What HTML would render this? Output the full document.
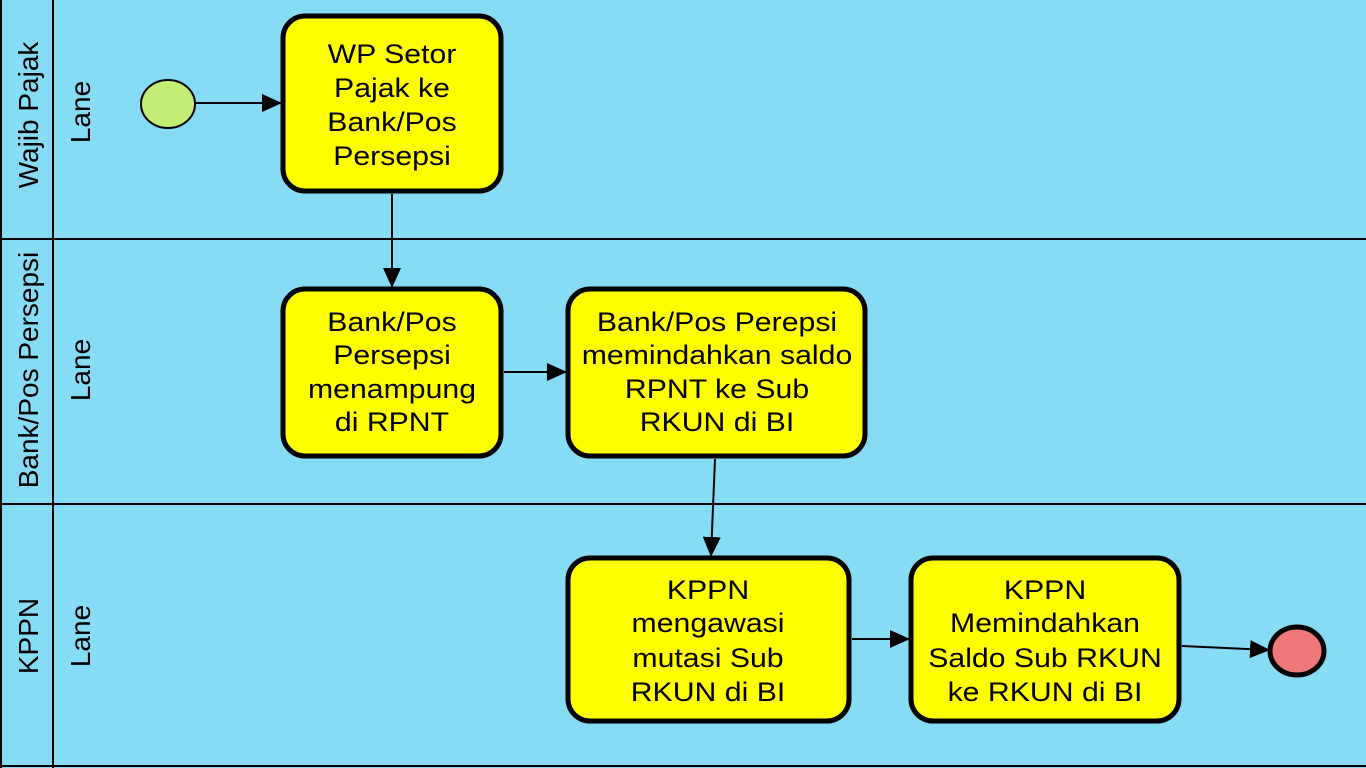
<!DOCTYPE html>
<html><head><style>html,body{margin:0;padding:0;width:1366px;height:768px;overflow:hidden;background:#87dcf5}</style></head>
<body>
<svg width="1366" height="768" viewBox="0 0 1366 768" xmlns="http://www.w3.org/2000/svg" font-family="Liberation Sans, Arial, sans-serif">
<defs><marker id="a" markerWidth="20" markerHeight="18" refX="19" refY="9" orient="auto" markerUnits="userSpaceOnUse"><path d="M0,0 L20,9 L0,18 z" fill="#000"/></marker></defs>
<rect x="0" y="0" width="1366" height="768" fill="#87dcf5"/>
<g stroke="#000" stroke-width="2" fill="none">
<line x1="1" y1="0" x2="1" y2="768"/>
<line x1="53" y1="0" x2="53" y2="768"/>
<line x1="0" y1="239" x2="1366" y2="239"/>
<line x1="0" y1="504" x2="1366" y2="504"/>
<line x1="0" y1="766" x2="1366" y2="766"/>
</g>
<g font-size="28" fill="#000" text-anchor="middle">
<text transform="translate(38,115) rotate(-90)">Wajib Pajak</text>
<text transform="translate(38,370) rotate(-90)">Bank/Pos Persepsi</text>
<text transform="translate(38,636) rotate(-90)">KPPN</text>
<text transform="translate(90,112) rotate(-90)">Lane</text>
<text transform="translate(90,370) rotate(-90)">Lane</text>
<text transform="translate(90,636) rotate(-90)">Lane</text>
</g>
<g stroke="#000" stroke-width="2" fill="none" marker-end="url(#a)">
<line x1="195" y1="103" x2="281" y2="103"/>
<line x1="392" y1="194" x2="392" y2="287"/>
<line x1="504" y1="372" x2="566" y2="372"/>
<line x1="715" y1="459" x2="711" y2="556"/>
<line x1="852" y1="639" x2="909" y2="639"/>
<line x1="1182" y1="646" x2="1269" y2="650"/>
</g>
<ellipse cx="168" cy="104" rx="27" ry="24" fill="#c3ee75" stroke="#000" stroke-width="2"/>
<ellipse cx="1297" cy="651" rx="27" ry="24" fill="#f07878" stroke="#000" stroke-width="5"/>
<g fill="#ffff00" stroke="#000" stroke-width="5">
<rect x="283" y="16" width="218" height="175" rx="22"/>
<rect x="283" y="289" width="218" height="167" rx="22"/>
<rect x="568" y="289" width="297" height="167" rx="22"/>
<rect x="568" y="558" width="281" height="163" rx="22"/>
<rect x="911" y="558" width="268" height="163" rx="22"/>
</g>
<g font-size="27" fill="#000" text-anchor="middle">
<text transform="translate(392,63) scale(1.12,1)">WP Setor</text>
<text transform="translate(392,97) scale(1.12,1)">Pajak ke</text>
<text transform="translate(392,131) scale(1.12,1)">Bank/Pos</text>
<text transform="translate(392,165) scale(1.12,1)">Persepsi</text>
<text transform="translate(392,331) scale(1.12,1)">Bank/Pos</text>
<text transform="translate(392,364) scale(1.12,1)">Persepsi</text>
<text transform="translate(392,398) scale(1.12,1)">menampung</text>
<text transform="translate(392,431) scale(1.12,1)">di RPNT</text>
<text transform="translate(717,331) scale(1.12,1)">Bank/Pos Perepsi</text>
<text transform="translate(717,364) scale(1.12,1)">memindahkan saldo</text>
<text transform="translate(717,398) scale(1.12,1)">RPNT ke Sub</text>
<text transform="translate(717,431) scale(1.12,1)">RKUN di BI</text>
<text transform="translate(708,599) scale(1.12,1)">KPPN</text>
<text transform="translate(708,632) scale(1.12,1)">mengawasi</text>
<text transform="translate(708,667) scale(1.12,1)">mutasi Sub</text>
<text transform="translate(708,701) scale(1.12,1)">RKUN di BI</text>
<text transform="translate(1045,599) scale(1.12,1)">KPPN</text>
<text transform="translate(1045,632) scale(1.12,1)">Memindahkan</text>
<text transform="translate(1045,667) scale(1.12,1)">Saldo Sub RKUN</text>
<text transform="translate(1045,701) scale(1.12,1)">ke RKUN di BI</text>
</g>
</svg>
</body></html>
